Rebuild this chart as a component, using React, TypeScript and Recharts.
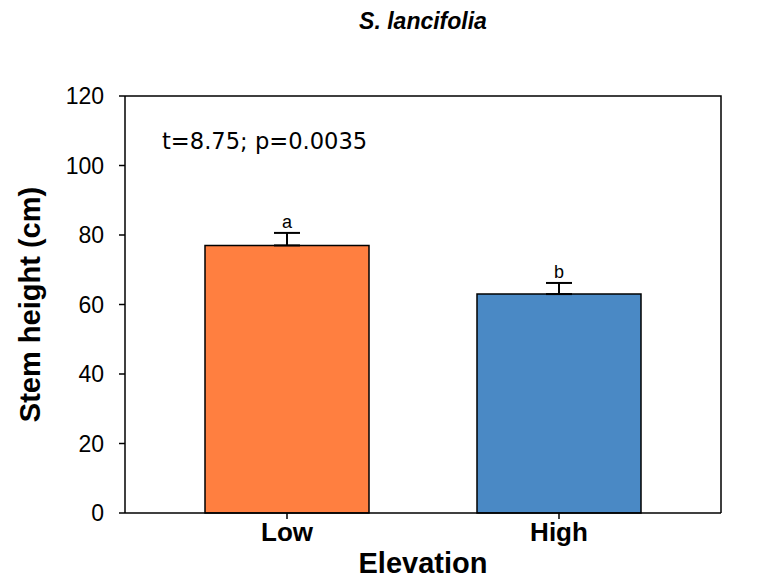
import { BarChart, Bar, XAxis, YAxis, Cell, ErrorBar, LabelList, usePlotArea } from 'recharts';

// stem height by elevation, mean ± SE
const elevations = ['Low', 'High'];
const meanHeight = [77, 63];
const stdError = [3.6, 3.2];
const letters = ['a', 'b'];
const barColors = ['#FF7F40', '#4A89C5'];
const yTicks = [0, 20, 40, 60, 80, 100, 120];

const data = elevations.map((name, i) => ({
  name,
  height: meanHeight[i],
  err: [0, stdError[i]],
  letter: letters[i],
}));

const arial = '"Liberation Sans", Arial, sans-serif';
const axisStroke = { stroke: '#000', strokeWidth: 1.5 };

// top and right edges of the plot box
function Frame() {
  const area = usePlotArea();
  if (!area) return null;
  const { x, y, width, height } = area;
  return (
    <path
      d={`M${x},${y} H${x + width} V${y + height}`}
      fill="none"
      stroke="#000"
      strokeWidth={1.5}
    />
  );
}

// letter drawn just above the error cap
const LetterLabel = (props: any) => {
  const { x, y, width, height, value, index } = props;
  const pxPerUnit = height / meanHeight[index];
  const capY = y - stdError[index] * pxPerUnit;
  return (
    <text x={x + width / 2} y={capY - 5} textAnchor="middle" fontFamily={arial} fontSize={18} fill="#000">
      {value}
    </text>
  );
};

export default function App() {
  return (
    <div style={{ position: 'absolute', left: 0, top: 0, width: 762, height: 579, background: '#fff' }}>
      <div
        style={{
          position: 'absolute',
          left: 0,
          width: 846,
          top: 8,
          textAlign: 'center',
          fontFamily: arial,
          fontWeight: 'bold',
          fontStyle: 'italic',
          fontSize: 23,
        }}
      >
        S. lancifolia
      </div>
      <div
        style={{
          position: 'absolute',
          left: 162,
          top: 128,
          fontFamily: '"DejaVu Sans", sans-serif',
          fontSize: 22.6,
          color: '#000',
          whiteSpace: 'nowrap',
        }}
      >
        t=8.75; p=0.0035
      </div>
      <BarChart
        width={762}
        height={579}
        data={data}
        margin={{ top: 96, right: 41, bottom: 36, left: 0 }}
      >
        <XAxis
          dataKey="name"
          padding={{ left: 26, right: 26 }}
          axisLine={axisStroke}
          tickLine={axisStroke}
          tickSize={6}
          tickMargin={4}
          tick={{ fill: '#000', fontFamily: arial, fontWeight: 'bold', fontSize: 26 }}
          label={{
            value: 'Elevation',
            position: 'bottom',
            offset: 9,
            fill: '#000',
            fontFamily: arial,
            fontWeight: 'bold',
            fontSize: 29,
          }}
        />
        <YAxis
          width={125}
          domain={[0, 120]}
          ticks={yTicks}
          axisLine={axisStroke}
          tickLine={axisStroke}
          tickSize={6}
          tickMargin={15}
          tick={{ fill: '#000', fontFamily: arial, fontSize: 23 }}
          label={{
            value: 'Stem height (cm)',
            angle: -90,
            position: 'insideLeft',
            offset: 30,
            fill: '#000',
            fontFamily: arial,
            fontWeight: 'bold',
            fontSize: 29,
            style: { textAnchor: 'middle' },
          }}
        />
        <Frame />
        <Bar dataKey="height" barSize={164} stroke="#000" strokeWidth={1.5} isAnimationActive={false}>
          {data.map((d, i) => (
            <Cell key={d.name} fill={barColors[i]} />
          ))}
          <ErrorBar dataKey="err" direction="y" width={13} stroke="#000" strokeWidth={2} />
          <LabelList dataKey="letter" content={LetterLabel} />
        </Bar>
      </BarChart>
    </div>
  );
}
